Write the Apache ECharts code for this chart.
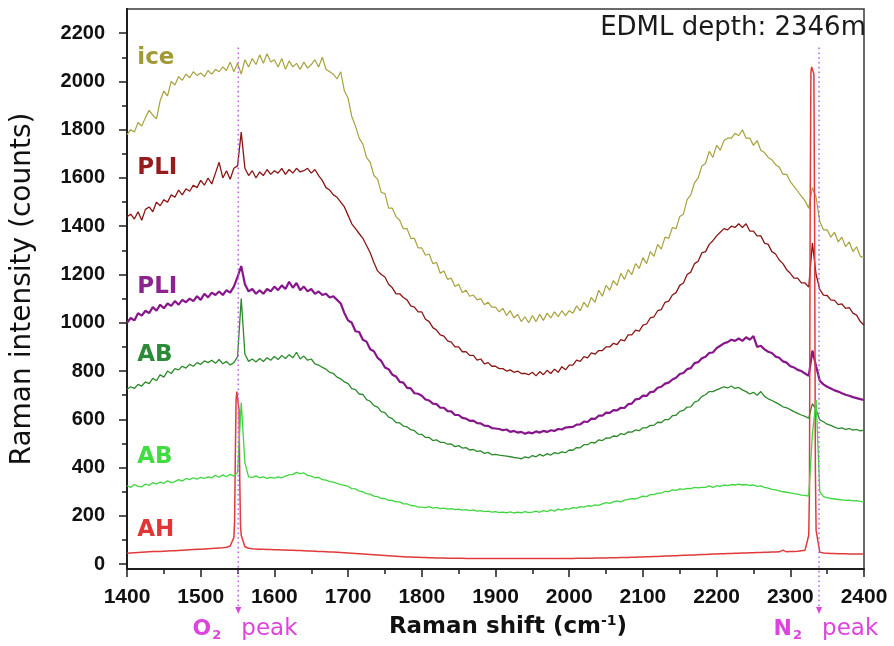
<!DOCTYPE html>
<html>
<head>
<meta charset="utf-8">
<script src="https://cdn.jsdelivr.net/npm/echarts@6/dist/echarts.min.js"></script>
<style>
html, body { margin: 0; padding: 0; background: #fff; }
#chart { width: 894px; height: 646px; }
</style>
</head>
<body>
<div id="chart"></div>
<script>
// Raman spectra, EDML ice core, 2346 m depth. Sampled every 5 cm^-1 from 1400 to 2400.
const shifts = [];
for (let s = 1400; s <= 2400; s += 5) shifts.push(s);

// ice matrix
const ice = [
  1780,1800,1790,1830,1815,1850,1880,1860,1845,1920,1960,1940,2000,1985,2020,2005,2030,2015,2040,2025,
  2035,2020,2045,2030,2050,2040,2060,2045,2080,2040,2075,2030,2090,2060,2095,2070,2110,2075,2115,2080,
  2090,2060,2095,2050,2085,2060,2075,2050,2080,2055,2070,2090,2060,2100,2050,2040,2030,2010,2040,1960,
  1930,1855,1815,1765,1740,1685,1665,1610,1595,1540,1535,1475,1475,1440,1425,1390,1390,1350,1350,1310,
  1310,1280,1285,1245,1250,1205,1215,1180,1185,1150,1160,1125,1135,1110,1115,1095,1100,1075,1085,1065,
  1065,1045,1060,1030,1050,1020,1035,1005,1025,1000,1030,1005,1035,1010,1040,1020,1045,1025,1050,1030,
  1050,1040,1070,1050,1085,1065,1105,1085,1135,1110,1155,1135,1175,1155,1205,1180,1220,1200,1245,1225,
  1270,1245,1295,1275,1325,1305,1355,1350,1395,1390,1440,1450,1510,1530,1580,1600,1650,1660,1710,1685,
  1735,1715,1755,1765,1765,1785,1775,1800,1765,1765,1735,1755,1715,1705,1685,1675,1655,1645,1615,1615,
  1585,1565,1545,1525,1505,1475,1560,1520,1420,1385,1385,1355,1375,1335,1355,1315,1335,1295,1315,1275,
  1270
];

// PLI (dark red)
const pliRed = [
  1440,1450,1430,1460,1425,1470,1480,1460,1500,1485,1510,1500,1530,1520,1550,1530,1555,1545,1570,1560,
  1590,1570,1600,1575,1620,1665,1600,1630,1595,1640,1650,1790,1640,1610,1630,1600,1625,1610,1635,1615,
  1630,1620,1640,1615,1635,1620,1640,1625,1630,1640,1620,1635,1610,1590,1560,1550,1530,1520,1500,1480,
  1445,1410,1390,1370,1350,1320,1290,1250,1215,1200,1190,1160,1145,1120,1120,1105,1095,1070,1065,1045,
  1045,1015,1005,980,970,950,945,925,920,900,900,880,880,865,865,845,850,830,835,820,
  820,810,810,800,805,795,800,790,790,785,795,780,798,785,803,790,808,795,818,805,
  825,825,845,840,860,855,875,870,885,885,900,900,915,910,930,925,950,950,970,965,
  990,995,1020,1025,1050,1055,1085,1090,1115,1125,1155,1165,1200,1210,1245,1255,1290,1295,1325,1340,
  1360,1375,1390,1385,1400,1395,1410,1395,1410,1380,1380,1360,1360,1330,1325,1295,1285,1260,1245,1220,
  1205,1185,1185,1165,1165,1148,1330,1200,1138,1115,1113,1095,1093,1075,1078,1060,1063,1040,1032,1005,
  990
];

// PLI (purple)
const pliPurple = [
  1000,1020,1010,1040,1030,1050,1040,1065,1050,1075,1060,1080,1070,1090,1075,1095,1085,1100,1090,1110,
  1095,1120,1105,1125,1115,1130,1115,1135,1125,1150,1190,1235,1160,1130,1140,1120,1135,1120,1140,1130,
  1150,1135,1155,1140,1170,1145,1165,1135,1150,1130,1140,1120,1130,1115,1120,1105,1110,1095,1080,1040,
  1010,1000,965,962,930,922,890,882,855,842,815,808,785,778,755,752,730,728,708,706,
  698,682,678,665,663,648,648,634,633,618,618,606,603,594,595,584,583,574,573,564,
  562,560,555,558,548,552,545,548,540,546,542,550,545,552,548,555,552,560,558,566,
  568,569,578,579,591,589,603,602,615,615,628,627,638,637,648,647,663,665,683,685,
  698,697,713,715,731,735,748,752,765,772,788,792,808,812,833,837,853,859,875,877,
  895,905,915,920,930,925,935,925,940,930,945,900,905,890,880,875,860,855,840,835,
  820,815,805,800,790,780,885,820,760,745,735,728,720,715,708,702,698,692,688,684,
  680
];

// AB (dark green)
const abDark = [
  725,735,728,745,738,755,748,770,760,785,775,800,790,810,805,820,812,828,820,835,
  828,842,835,845,832,848,830,840,825,835,860,1100,870,840,850,838,852,840,855,845,
  860,848,865,852,868,855,878,850,862,845,850,830,825,815,808,795,790,775,768,755,
  748,727,723,705,703,682,675,657,651,632,628,609,603,587,585,572,569,557,553,539,
  538,525,525,512,515,505,505,497,498,487,491,481,483,473,475,467,469,459,463,453,
  455,452,450,448,445,442,440,436,445,440,450,445,455,448,458,452,462,458,465,462,
  473,472,483,482,495,495,505,502,515,512,523,522,531,529,541,537,548,547,556,553,
  565,565,575,575,588,587,599,599,615,617,633,637,651,652,671,677,695,702,715,715,
  722,728,735,730,738,728,732,722,715,705,712,700,715,695,685,678,670,662,652,648,
  640,632,625,618,612,605,665,640,598,590,580,575,568,562,565,558,562,555,558,552,
  555
];

// AB (light green)
const abLight = [
  325,318,330,322,320,332,326,338,332,340,335,345,338,342,350,344,355,350,358,352,
  360,355,362,358,368,360,370,362,372,365,380,670,420,362,360,366,358,362,355,360,
  356,362,358,365,370,372,380,375,378,368,365,358,360,350,348,342,340,335,330,326,
  322,313,312,303,300,292,290,282,280,272,272,264,264,258,258,250,250,243,242,236,
  236,234,238,232,235,230,232,228,230,226,228,224,226,222,225,220,222,218,220,216,
  218,214,216,213,217,212,216,213,218,214,216,220,215,222,218,225,220,228,224,230,
  228,234,232,238,236,242,240,246,244,250,255,252,258,262,258,265,268,272,270,276,
  282,280,288,288,294,294,302,300,308,306,312,310,314,313,318,316,318,318,324,318,
  325,322,328,325,330,328,332,328,330,326,328,322,324,318,315,310,308,304,300,298,
  295,292,290,286,285,282,540,680,300,280,276,272,270,268,266,264,265,262,263,260,
  258
];

// AH (red)
const ah = [
  45,46,47,48,49,50,51,52,52,53,54,55,56,56,57,58,59,60,61,62,
  62,63,64,65,66,67,68,70,75,110,720,120,72,66,64,63,62,62,61,61,
  60,60,59,59,58,58,57,57,56,55,55,54,53,52,51,50,50,49,48,47,
  46,45,44,43,42,41,40,39,38,37,36,35,34,33,32,31,30,30,29,29,
  28,28,27,27,26,26,26,25,25,25,25,25,24,24,24,24,24,24,24,24,
  24,24,24,24,24,24,24,24,24,24,24,24,24,24,24,24,24,24,24,24,
  24,24,25,25,25,25,25,26,26,26,26,27,27,27,28,28,28,29,29,30,
  30,31,31,32,32,33,34,34,35,35,36,37,37,38,38,39,40,40,41,42,
  42,43,43,44,44,45,45,46,46,47,47,48,48,49,49,50,50,51,58,51,
  52,53,54,56,58,120,2060,140,50,46,45,44,44,43,43,43,42,42,42,42,
  42
];
// finer readings across the O2 and N2 lines of the AH spectrum
const ahPeakDetail = [
  [1546, 180], [1547, 450], [1548, 680], [1549, 715], [1551, 710], [1552, 640], [1553, 350], [1554, 160],
  [2326, 300], [2327, 1500], [2328, 2040], [2329, 2060], [2331, 2055], [2332, 2030], [2333, 1400], [2334, 400]
];

const yLabelValues = [0, 200, 400, 600, 800, 1000, 1200, 1400, 1600, 1800, 2000, 2200];
const yMinorValues = [100, 300, 500, 700, 900, 1100, 1300, 1500, 1700, 1900, 2100];

const gasLines = [
  { shift: 1551, gas: 'O', label: 'peak' },
  { shift: 2339, gas: 'N', label: 'peak' }
];

const curveLabels = [
  { text: 'ice', shift: 1414, value: 2096, color: '#a09a36' },
  { text: 'PLI', shift: 1414, value: 1640, color: '#951c1c' },
  { text: 'PLI', shift: 1414, value: 1147, color: '#8b248d' },
  { text: 'AB',  shift: 1414, value: 866,  color: '#2c8a38' },
  { text: 'AB',  shift: 1414, value: 443,  color: '#40dc40' },
  { text: 'AH',  shift: 1414, value: 141,  color: '#e03636' }
];

const FONT = '"Liberation Sans", Arial, Helvetica, sans-serif';
const WIDE = '"DejaVu Sans", Verdana, sans-serif';

function pairs(values) {
  return shifts.map((s, i) => [s, values[i]]);
}

function lineSeries(name, data, color, width) {
  return {
    name, type: 'line', data, symbol: 'none', showSymbol: false,
    lineStyle: { color, width }, emphasis: { disabled: true }, z: 3
  };
}

const ahData = pairs(ah).concat(ahPeakDetail).sort((a, b) => a[0] - b[0]);

const axisColor = '#1e1e1e';
const plain = v => String(v);

const option = {
  animation: false,
  backgroundColor: '#ffffff',
  grid: { left: 127, right: 30, top: 9, bottom: 77, show: true, borderColor: '#3a3a3a', borderWidth: 1.5 },
  xAxis: {
    type: 'value', min: 1400, max: 2400, interval: 100,
    axisLine: { onZero: false, lineStyle: { color: axisColor, width: 1.8 } },
    axisTick: { inside: false, length: 8, lineStyle: { color: axisColor, width: 1.5 } },
    minorTick: { show: true, splitNumber: 2, length: 5, lineStyle: { color: axisColor, width: 1.5 } },
    splitLine: { show: false },
    axisLabel: { margin: 18, color: '#111', fontSize: 21, fontWeight: 'bold', fontFamily: FONT, formatter: plain },
    name: 'Raman shift (cm{sup|-1})',
    nameLocation: 'middle',
    nameGap: 45,
    nameTextStyle: {
      color: '#111', fontSize: 23, fontWeight: 'bold', fontFamily: WIDE, padding: [0, 0, 0, 25],
      rich: { sup: { fontSize: 14, fontWeight: 'bold', fontFamily: WIDE, color: '#111', padding: [0, 0, 12, 0] } }
    }
  },
  yAxis: [
    {
      type: 'value', min: -20, max: 2300, position: 'left',
      axisLine: { onZero: false, lineStyle: { color: axisColor, width: 1.8 } },
      axisTick: { inside: false, length: 8, customValues: yLabelValues, lineStyle: { color: axisColor, width: 1.5 } },
      axisLabel: { customValues: yLabelValues, margin: 22, color: '#111', fontSize: 20, fontWeight: 'bold', fontFamily: FONT, formatter: plain },
      splitLine: { show: false },
      name: 'Raman intensity (counts)',
      nameLocation: 'middle',
      nameGap: 90,
      nameTextStyle: { color: '#111', fontSize: 28, fontFamily: WIDE }
    },
    {
      type: 'value', min: -20, max: 2300, position: 'left',
      axisLine: { show: true, onZero: false, lineStyle: { color: axisColor, width: 1.8 } },
      axisTick: { show: true, inside: false, length: 5, customValues: yMinorValues, lineStyle: { color: axisColor, width: 1.5 } },
      axisLabel: { show: false },
      splitLine: { show: false }
    }
  ],
  series: [
    lineSeries('ice', pairs(ice), '#a7a23e', 1.2),
    lineSeries('PLI red', pairs(pliRed), '#8a1616', 1.3),
    lineSeries('PLI purple', pairs(pliPurple), '#87168b', 2.2),
    lineSeries('AB dark', pairs(abDark), '#2b8a2b', 1.3),
    lineSeries('AH', ahData, '#e03a3a', 1.5),
    lineSeries('AB light', pairs(abLight), '#3fd63f', 1.3)
  ]
};

const chart = echarts.init(document.getElementById('chart'), null, { renderer: 'canvas' });
chart.setOption(option);

// annotations placed through the chart's own coordinate conversion
const at = (x, y) => chart.convertToPixel({ seriesIndex: 0 }, [x, y]);
const axisY = at(1400, -20)[1];
const elements = [];

curveLabels.forEach(l => {
  const p = at(l.shift, l.value);
  elements.push({
    type: 'text', x: p[0], y: p[1], z: 10,
    style: { text: l.text, fill: l.color, font: 'bold 23px ' + WIDE, align: 'left', verticalAlign: 'middle', textAlign: 'left', textVerticalAlign: 'middle' }
  });
});

gasLines.forEach(g => {
  const top = at(g.shift, 2140);
  const x = top[0];
  elements.push({
    type: 'line', z: 9,
    shape: { x1: x, y1: top[1], x2: x, y2: axisY + 38 },
    style: { stroke: '#c065e6', lineWidth: 1.6, lineDash: [1.6, 3.2] }
  });
  elements.push({
    type: 'polygon', z: 9,
    shape: { points: [[x - 3, axisY + 38], [x + 3, axisY + 38], [x, axisY + 45]] },
    style: { fill: '#dd44dd' }
  });
  elements.push({
    type: 'text', x: x - 17, y: axisY + 60, z: 9,
    style: {
      text: '{g|' + g.gas + '}{s|2}', align: 'right', verticalAlign: 'middle', textAlign: 'right', textVerticalAlign: 'middle',
      rich: {
        g: { font: 'bold 22px ' + WIDE, fill: '#dd44dd', color: '#dd44dd' },
        s: { font: 'bold 13px ' + WIDE, fill: '#dd44dd', color: '#dd44dd', padding: [14, 0, 0, 1] }
      }
    }
  });
  elements.push({
    type: 'text', x: x + 3, y: axisY + 60, z: 9,
    style: { text: g.label, fill: '#dd44dd', font: '23px ' + WIDE, align: 'left', verticalAlign: 'middle', textAlign: 'left', textVerticalAlign: 'middle' }
  });
});

const tag = at(2042, 2222);
elements.push({
  type: 'text', x: tag[0], y: tag[1], z: 10,
  style: { text: 'EDML depth: 2346m', fill: '#1a1a1a', font: '26px ' + WIDE, align: 'left', verticalAlign: 'middle', textAlign: 'left', textVerticalAlign: 'middle' }
});

chart.setOption({ graphic: { elements } });
</script>
</body>
</html>
